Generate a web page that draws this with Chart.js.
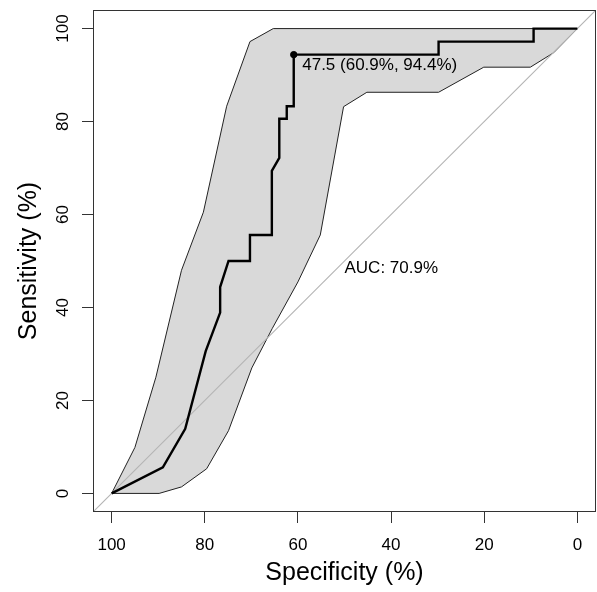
<!DOCTYPE html>
<html>
<head>
<meta charset="utf-8">
<script src="https://cdn.jsdelivr.net/npm/chart.js@4/dist/chart.umd.min.js"></script>
<style>
    body { margin: 0; background: #fff; }
    #wrap { width: 597px; height: 592px; }
</style>
</head>
<body>
<div id="wrap"><canvas id="roc" width="597" height="592"></canvas></div>
<script>
// ROC curve (specificity %, sensitivity %)
const rocSpec = [100, 89.0, 84.2, 79.8, 76.7, 76.7, 74.9, 70.3, 70.3, 65.6, 65.6, 64.0, 64.0, 62.4, 62.4, 60.9, 60.9, 29.8, 29.8, 9.4, 9.4, 0];
const rocSens = [0, 5.6, 13.9, 30.6, 38.9, 44.4, 50.0, 50.0, 55.6, 55.6, 69.4, 72.2, 80.6, 80.6, 83.3, 83.3, 94.4, 94.4, 97.2, 97.2, 100, 100];

// confidence band
const ciUpperSpec = [100, 95.0, 90.5, 85.0, 80.3, 75.3, 70.3, 65.3, 0];
const ciUpperSens = [0, 9.9, 25.0, 48.0, 60.5, 83.3, 97.2, 100, 100];
const ciLowerSpec = [100, 89.8, 85.0, 79.6, 74.9, 69.9, 65.5, 60.0, 55.2, 50.2, 45.2, 29.8, 20.1, 10.1, 5.1, 0];
const ciLowerSens = [0, 0, 1.4, 5.3, 13.5, 27.0, 35.5, 45.5, 55.6, 83.2, 86.3, 86.3, 91.7, 91.7, 94.8, 100];

// best threshold
const threshold = 47.5;
const thresholdSpec = 60.9;
const thresholdSens = 94.4;
const aucValue = 70.9;

const xTicks = [0, 20, 40, 60, 80, 100];
const yTicks = [0, 20, 40, 60, 80, 100];
const axisMin = -4;
const axisMax = 104;

const fontFamily = '"Liberation Sans", Arial, Helvetica, sans-serif';

const rocPoints = rocSpec.map((s, i) => ({ x: s, y: rocSens[i] }));
const bandPoints = ciUpperSpec.map((s, i) => ({ x: s, y: ciUpperSens[i] }))
    .concat(ciLowerSpec.map((s, i) => ({ x: s, y: ciLowerSens[i] })).reverse());

const textPlugin = {
    id: 'rocText',
    afterDraw(chart) {
        const ctx = chart.ctx;
        const area = chart.chartArea;
        const xs = chart.scales.x;
        const ys = chart.scales.y;
        ctx.save();

        // box round the plot
        ctx.strokeStyle = '#333';
        ctx.lineWidth = 1;
        ctx.strokeRect(area.left + 0.5, area.top + 0.5, area.right - area.left - 1, area.bottom - area.top - 1);

        ctx.fillStyle = '#000';
        // y tick labels, parallel to the axis
        ctx.font = '17px ' + fontFamily;
        ctx.textAlign = 'center';
        ctx.textBaseline = 'middle';
        yTicks.forEach(v => {
            ctx.save();
            ctx.translate(63, ys.getPixelForValue(v));
            ctx.rotate(-Math.PI / 2);
            ctx.fillText(String(v), 0, 0);
            ctx.restore();
        });

        // axis titles
        ctx.font = '25px ' + fontFamily;
        ctx.fillText('Specificity (%)', (area.left + area.right) / 2, 573);
        ctx.save();
        ctx.translate(29, (area.top + area.bottom) / 2);
        ctx.rotate(-Math.PI / 2);
        ctx.fillText('Sensitivity (%)', 0, 0);
        ctx.restore();

        // annotations
        ctx.font = '17px ' + fontFamily;
        ctx.textAlign = 'left';
        const px = xs.getPixelForValue(thresholdSpec);
        const py = ys.getPixelForValue(thresholdSens);
        ctx.fillText(threshold + ' (' + thresholdSpec + '%, ' + thresholdSens + '%)', px + 8.5, py + 11);
        ctx.fillText('AUC: ' + aucValue + '%', xs.getPixelForValue(50), ys.getPixelForValue(50) + 7);

        ctx.restore();
    }
};

new Chart(document.getElementById('roc'), {
    type: 'scatter',
    data: {
        datasets: [
            {
                label: 'threshold',
                data: [{ x: thresholdSpec, y: thresholdSens }],
                pointRadius: 3.2,
                backgroundColor: '#000',
                borderColor: '#000',
                showLine: false
            },
            {
                label: 'ROC',
                data: rocPoints,
                showLine: true,
                borderColor: '#000',
                borderWidth: 2.4,
                pointRadius: 0,
                fill: false
            },
            {
                label: 'chance',
                data: [{ x: axisMax, y: axisMin }, { x: axisMin, y: axisMax }],
                showLine: true,
                borderColor: '#b4b4b4',
                borderWidth: 1.1,
                pointRadius: 0,
                fill: false
            },
            {
                label: 'CI',
                data: bandPoints,
                showLine: true,
                borderColor: '#222',
                borderWidth: 1,
                backgroundColor: '#d9d9d9',
                pointRadius: 0,
                fill: 'shape'
            }
        ]
    },
    options: {
        responsive: false,
        animation: false,
        layout: {
            autoPadding: false,
            padding: { left: 0, top: 10, right: 1, bottom: 0 }
        },
        plugins: {
            legend: { display: false },
            tooltip: { enabled: false }
        },
        scales: {
            x: {
                type: 'linear',
                reverse: true,
                min: axisMin,
                max: axisMax,
                afterBuildTicks: s => { s.ticks = xTicks.map(v => ({ value: v })); },
                afterFit: s => {
                    s.height = 80;
                    s.paddingLeft = 0;
                    s.paddingRight = 0;
                },
                border: { display: false },
                grid: {
                    drawOnChartArea: false,
                    drawTicks: true,
                    tickLength: 11,
                    color: '#333'
                },
                ticks: {
                    padding: 12,
                    color: '#000',
                    font: { size: 17, family: fontFamily },
                    maxRotation: 0
                }
            },
            y: {
                type: 'linear',
                min: axisMin,
                max: axisMax,
                afterBuildTicks: s => { s.ticks = yTicks.map(v => ({ value: v })); },
                afterFit: s => {
                    s.width = 93;
                    s.paddingTop = 0;
                    s.paddingBottom = 0;
                },
                border: { display: false },
                grid: {
                    drawOnChartArea: false,
                    drawTicks: true,
                    tickLength: 11,
                    color: '#333'
                },
                ticks: { display: false }
            }
        }
    },
    plugins: [textPlugin]
});
</script>
</body>
</html>
